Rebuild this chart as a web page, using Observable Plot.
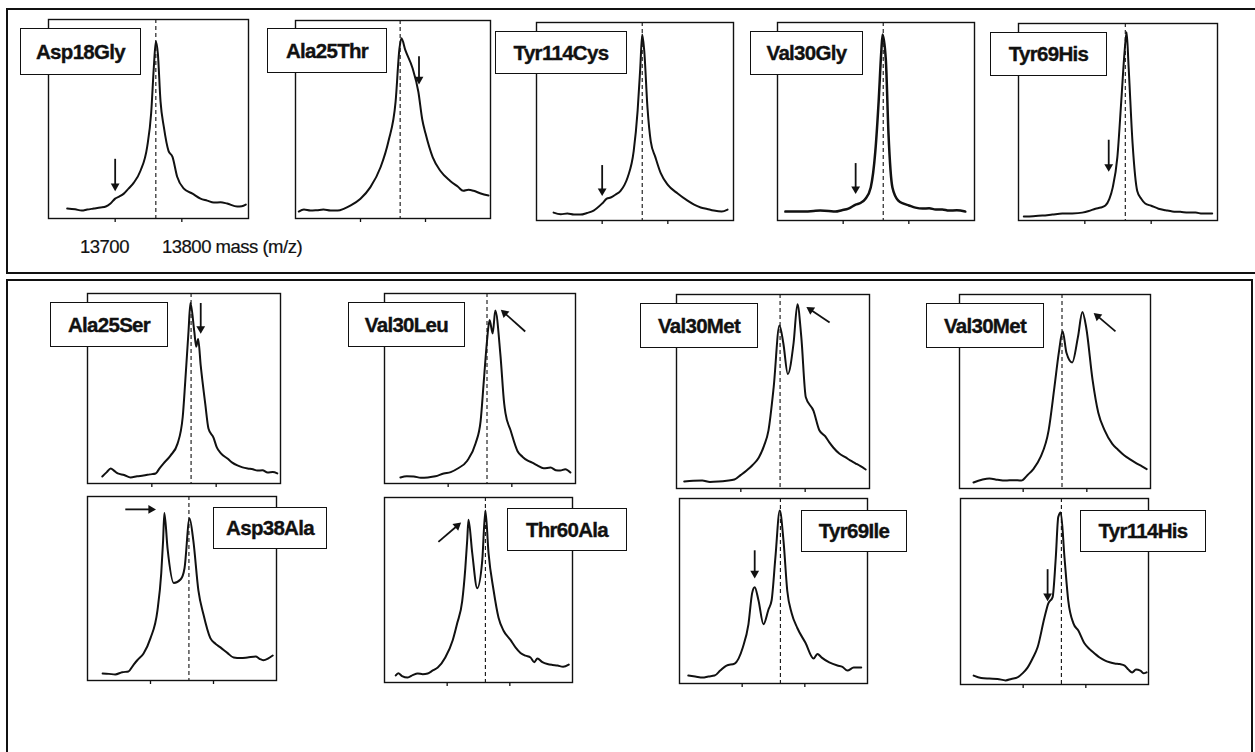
<!DOCTYPE html>
<html><head><meta charset="utf-8">
<script src="https://cdn.jsdelivr.net/npm/d3@7"></script>
<script src="https://cdn.jsdelivr.net/npm/@observablehq/plot@0.6"></script>
<style>
html,body{margin:0;padding:0;background:#fff;overflow:hidden;}
#fig{position:relative;width:1255px;height:752px;overflow:hidden;background:#fff;font-family:"Liberation Sans",Arial,sans-serif;color:#111;}
.outer{position:absolute;border:2px solid #111;box-sizing:border-box;}
.lab{position:absolute;background:#fff;border:1.6px solid #111;box-sizing:border-box;display:flex;align-items:center;justify-content:center;font-weight:bold;font-size:20.5px;letter-spacing:-0.7px;-webkit-text-stroke:0.35px #111;z-index:3;white-space:nowrap;}
.panel{position:absolute;z-index:2;}
.axt{position:absolute;font-size:18.5px;letter-spacing:-0.5px;line-height:18px;white-space:nowrap;-webkit-text-stroke:0.2px #111;}
</style></head><body><div id="fig"></div>
<script>
// ---- data ----
const names = ["Asp18Gly","Ala25Thr","Tyr114Cys","Val30Gly","Tyr69His","Ala25Ser","Val30Leu","Val30Met","Val30Met","Asp38Ala","Thr60Ala","Tyr69Ile","Tyr114His"];
const wildTypeMass = 13761;
const massDomain = [13600, 13900];
const tickMasses = [13700, 13800];
const tickLabels = ["13700", "13800 mass (m/z)"];

// spectra: [mass (Da), relative intensity]
const asp18gly = [[13628,0.05],[13640,0.046],[13650,0.04],[13658,0.045],[13668,0.05],[13678,0.055],[13686,0.06],[13693,0.075],[13700,0.10],[13706,0.11],[13713,0.125],[13720,0.15],[13728,0.18],[13738,0.24],[13748,0.36],[13754,0.53],[13758,0.76],[13761,0.89],[13764,0.83],[13768,0.59],[13773,0.46],[13780,0.34],[13786,0.31],[13793,0.21],[13803,0.15],[13816,0.125],[13828,0.10],[13838,0.09],[13848,0.08],[13858,0.082],[13868,0.075],[13883,0.06],[13890,0.062],[13896,0.07]];
const ala25thr = [[13605,0.035],[13613,0.045],[13623,0.04],[13633,0.042],[13643,0.045],[13654,0.04],[13665,0.04],[13675,0.05],[13685,0.066],[13700,0.10],[13715,0.157],[13731,0.26],[13743,0.39],[13754,0.59],[13760,0.86],[13763,0.91],[13769,0.85],[13780,0.76],[13789,0.64],[13795,0.50],[13800,0.43],[13811,0.31],[13823,0.24],[13838,0.19],[13850,0.16],[13858,0.14],[13866,0.145],[13874,0.14],[13885,0.126],[13897,0.116]];
const tyr114cys = [[13626,0.04],[13637,0.032],[13647,0.035],[13657,0.03],[13667,0.03],[13677,0.038],[13687,0.05],[13700,0.086],[13707,0.11],[13713,0.116],[13720,0.13],[13728,0.15],[13734,0.18],[13739,0.22],[13748,0.35],[13754,0.555],[13758,0.77],[13761,0.94],[13764,0.86],[13769,0.57],[13774,0.40],[13781,0.32],[13789,0.24],[13800,0.18],[13815,0.136],[13830,0.10],[13840,0.08],[13850,0.066],[13860,0.058],[13870,0.05],[13882,0.045],[13891,0.055]];
const val30gly = [[13612,0.045],[13628,0.046],[13643,0.045],[13655,0.048],[13665,0.05],[13678,0.048],[13688,0.045],[13698,0.052],[13708,0.06],[13719,0.08],[13727,0.09],[13734,0.11],[13742,0.167],[13749,0.35],[13754,0.60],[13758,0.85],[13760,0.94],[13765,0.81],[13769,0.44],[13775,0.167],[13784,0.10],[13792,0.085],[13800,0.076],[13810,0.065],[13821,0.06],[13831,0.062],[13841,0.055],[13851,0.056],[13861,0.05],[13873,0.052],[13886,0.045]];
const tyr69his = [[13608,0.02],[13622,0.022],[13636,0.025],[13651,0.03],[13666,0.035],[13681,0.036],[13696,0.04],[13706,0.048],[13716,0.06],[13724,0.066],[13731,0.076],[13737,0.11],[13742,0.167],[13749,0.32],[13755,0.61],[13760,0.86],[13763,0.955],[13766,0.78],[13772,0.39],[13779,0.15],[13785,0.11],[13791,0.086],[13800,0.075],[13811,0.06],[13822,0.052],[13832,0.046],[13844,0.044],[13856,0.04],[13867,0.04],[13877,0.035],[13892,0.035]];
const ala25ser = [[13623,0.037],[13630,0.06],[13636,0.079],[13642,0.065],[13647,0.053],[13657,0.045],[13667,0.032],[13677,0.038],[13687,0.042],[13697,0.048],[13706,0.053],[13712,0.08],[13718,0.105],[13729,0.147],[13740,0.21],[13748,0.35],[13752,0.54],[13757,0.80],[13760,0.95],[13766,0.80],[13769,0.72],[13772,0.76],[13776,0.62],[13783,0.42],[13788,0.29],[13796,0.24],[13801,0.19],[13807,0.16],[13818,0.13],[13825,0.11],[13833,0.095],[13841,0.085],[13849,0.079],[13857,0.075],[13864,0.068],[13872,0.07],[13880,0.058],[13888,0.06],[13895,0.053]];
const val30leu = [[13625,0.032],[13635,0.038],[13646,0.037],[13657,0.03],[13668,0.032],[13680,0.038],[13693,0.053],[13704,0.06],[13715,0.079],[13730,0.12],[13743,0.21],[13751,0.33],[13756,0.54],[13761,0.75],[13765,0.86],[13770,0.79],[13774,0.91],[13782,0.68],[13788,0.42],[13790,0.37],[13798,0.28],[13809,0.17],[13817,0.14],[13825,0.12],[13832,0.11],[13840,0.095],[13850,0.08],[13861,0.084],[13869,0.07],[13876,0.068],[13884,0.075],[13892,0.058]];
const val30met1 = [[13612,0.036],[13626,0.04],[13640,0.041],[13652,0.034],[13665,0.036],[13678,0.04],[13690,0.046],[13700,0.07],[13709,0.093],[13718,0.12],[13728,0.16],[13736,0.22],[13743,0.30],[13751,0.52],[13760,0.84],[13766,0.75],[13773,0.59],[13782,0.75],[13788,0.95],[13794,0.78],[13801,0.47],[13813,0.40],[13822,0.30],[13831,0.27],[13837,0.24],[13844,0.21],[13853,0.18],[13863,0.16],[13870,0.145],[13878,0.13],[13886,0.115],[13894,0.098]];
const val30met2 = [[13622,0.031],[13635,0.045],[13647,0.052],[13660,0.045],[13672,0.041],[13685,0.043],[13697,0.041],[13707,0.07],[13716,0.10],[13727,0.16],[13740,0.30],[13749,0.52],[13756,0.70],[13762,0.81],[13768,0.70],[13777,0.65],[13786,0.78],[13793,0.91],[13799,0.83],[13809,0.56],[13818,0.39],[13828,0.30],[13840,0.23],[13849,0.2],[13859,0.17],[13868,0.15],[13878,0.13],[13886,0.115],[13894,0.10]];
const asp38ala = [[13624,0.038],[13634,0.036],[13644,0.033],[13655,0.045],[13665,0.049],[13672,0.08],[13679,0.11],[13689,0.147],[13700,0.23],[13711,0.38],[13717,0.58],[13720,0.76],[13722,0.91],[13727,0.72],[13737,0.53],[13748,0.55],[13754,0.61],[13762,0.88],[13768,0.76],[13776,0.49],[13784,0.36],[13795,0.23],[13803,0.2],[13811,0.18],[13822,0.15],[13832,0.125],[13843,0.122],[13854,0.125],[13867,0.13],[13873,0.118],[13879,0.11],[13887,0.12],[13894,0.136]];
const thr60ala = [[13618,0.038],[13622,0.05],[13628,0.035],[13637,0.027],[13645,0.04],[13653,0.049],[13661,0.045],[13669,0.049],[13677,0.065],[13685,0.081],[13697,0.135],[13709,0.23],[13716,0.32],[13724,0.44],[13729,0.62],[13732,0.77],[13734,0.88],[13740,0.70],[13748,0.51],[13756,0.66],[13761,0.93],[13766,0.70],[13774,0.50],[13782,0.35],[13790,0.28],[13801,0.23],[13809,0.19],[13817,0.16],[13825,0.145],[13833,0.135],[13839,0.11],[13844,0.13],[13852,0.11],[13860,0.10],[13868,0.095],[13876,0.092],[13885,0.085],[13894,0.097]];
const tyr69ile = [[13614,0.043],[13625,0.038],[13637,0.032],[13646,0.038],[13656,0.043],[13665,0.07],[13675,0.097],[13688,0.108],[13701,0.195],[13710,0.32],[13716,0.49],[13720,0.52],[13726,0.45],[13734,0.32],[13742,0.40],[13747,0.45],[13753,0.68],[13760,0.935],[13766,0.77],[13772,0.50],[13779,0.38],[13788,0.30],[13801,0.22],[13814,0.135],[13820,0.16],[13827,0.14],[13839,0.114],[13852,0.097],[13860,0.09],[13868,0.07],[13878,0.086],[13890,0.086]];
const tyr114his = [[13621,0.048],[13633,0.035],[13646,0.032],[13659,0.03],[13672,0.022],[13681,0.03],[13691,0.038],[13699,0.06],[13707,0.091],[13715,0.14],[13723,0.20],[13734,0.36],[13740,0.435],[13747,0.47],[13752,0.68],[13756,0.90],[13760,0.925],[13766,0.68],[13772,0.45],[13780,0.33],[13788,0.29],[13798,0.22],[13806,0.19],[13814,0.167],[13822,0.145],[13830,0.13],[13838,0.12],[13846,0.113],[13854,0.11],[13862,0.102],[13868,0.08],[13874,0.065],[13880,0.08],[13887,0.075],[13892,0.06],[13897,0.065]];
const spectra = [asp18gly, ala25thr, tyr114cys, val30gly, tyr69his, ala25ser, val30leu, val30met1, val30met2, asp38ala, thr60ala, tyr69ile, tyr114his];

// variant-peak arrows: [mass1, int1, mass2, int2] (tail -> tip)
const arrows = [
  [13700,0.30,13700,0.13],
  [13790,0.82,13790,0.67],
  [13700,0.28,13700,0.116],
  [13719,0.29,13719,0.126],
  [13736,0.41,13736,0.24],
  [13776,0.95,13776,0.78],
  [13821,0.80,13781,0.92],
  [13838,0.856,13800,0.94],
  [13845,0.81,13809,0.91],
  [13660,0.93,13711,0.93],
  [13686,0.76,13724,0.87],
  [13720,0.72,13720,0.56],
  [13739,0.62,13739,0.44]
];

// ---- layout (pixels): plot frame and label box ----
const layout = [
  {l:48,r:248,t:19,b:218, lab:[20,141,28,75]},
  {l:295,r:490,t:20,b:218, lab:[267,387,28,73]},
  {l:536,r:733,t:22,b:220, lab:[495,627,31,74]},
  {l:777,r:974,t:22,b:220, lab:[750,863,31,75]},
  {l:1018,r:1217,t:23,b:220, lab:[990,1107,32,76]},
  {l:87,r:280,t:293,b:483, lab:[50,168,302,347]},
  {l:384,r:575,t:293,b:483, lab:[348,465,302,347]},
  {l:676,r:869,t:294,b:488, lab:[640,758,303,348]},
  {l:959,r:1150,t:294,b:488, lab:[926,1044,303,348]},
  {l:87,r:276,t:496,b:680, lab:[213,327,507,549]},
  {l:384,r:572,t:497,b:682, lab:[507,627,508,551]},
  {l:679,r:867,t:498,b:683, lab:[801,907,510,552]},
  {l:960,r:1148,t:498,b:684, lab:[1080,1206,510,552]}
];

const fig = document.getElementById("fig");
function div(cls, css, text) {
  const d = document.createElement("div");
  d.className = cls;
  Object.assign(d.style, css);
  if (text != null) d.textContent = text;
  fig.appendChild(d);
  return d;
}

// outer frames
div("outer", {left:"6px", top:"8px", width:"1270px", height:"266px"});
div("outer", {left:"6px", top:"279px", width:"1247px", height:"490px"});

const m = 3, mb = 8;
const triR = 4.2;
layout.forEach((p, i) => {
  const W = p.r - p.l, H = p.b - p.t;
  const [x1, y1, x2, y2] = arrows[i];
  // arrow direction in pixel space (for the filled head)
  const sx = W / (massDomain[1] - massDomain[0]), sy = H;
  const dxp = (x2 - x1) * sx, dyp = -(y2 - y1) * sy;
  const len = Math.hypot(dxp, dyp), ux = dxp / len, uy = dyp / len;
  const back = 2 * triR * Math.sqrt(Math.PI / (3 * Math.sqrt(3)));
  const hx = x2 - ux * back / sx, hy = y2 + uy * back / sy;
  const rot = Math.atan2(ux, -uy) * 180 / Math.PI;
  const chart = Plot.plot({
    width: W + 2*m, height: H + m + mb,
    marginLeft: m, marginRight: m, marginTop: m, marginBottom: mb,
    x: {domain: massDomain},
    y: {domain: [0, 1], axis: null},
    style: {background: "transparent", overflow: "visible"},
    marks: [
      Plot.axisX({ticks: tickMasses, tickSize: 4, tickFormat: () => "", label: null, stroke: "#111", strokeWidth: 1.3}),
      Plot.ruleX([wildTypeMass], {stroke: "#111", strokeWidth: 1.1, strokeDasharray: "4,3"}),
      Plot.line(spectra[i], {x: d => d[0], y: d => d[1], stroke: "#111", strokeWidth: i === 3 ? 2.5 : 2.0, strokeLinejoin: "round", curve: "monotone-x"}),
      Plot.link([[x1, y1, hx, hy]], {x1: d => d[0], y1: d => d[1], x2: d => d[2], y2: d => d[3], stroke: "#111", strokeWidth: 1.8}),
      Plot.dot([[hx, hy]], {x: d => d[0], y: d => d[1], symbol: "triangle2", r: triR, fill: "#111", stroke: "none", rotate: rot}),
      Plot.frame({stroke: "#111", strokeWidth: 1.4})
    ]
  });
  chart.classList.add("panel");
  chart.style.left = (p.l - m) + "px";
  chart.style.top = (p.t - m) + "px";
  fig.appendChild(chart);
  const [ll, lr, lt, lbt] = p.lab;
  div("lab", {left: ll + "px", top: lt + "px", width: (lr - ll) + "px", height: (lbt - lt) + "px"}, names[i]);
});

// mass axis labels under the first panel
div("axt", {left: "80px", top: "238px"}, tickLabels[0]);
div("axt", {left: "162px", top: "238px"}, tickLabels[1]);
</script>
</body></html>
